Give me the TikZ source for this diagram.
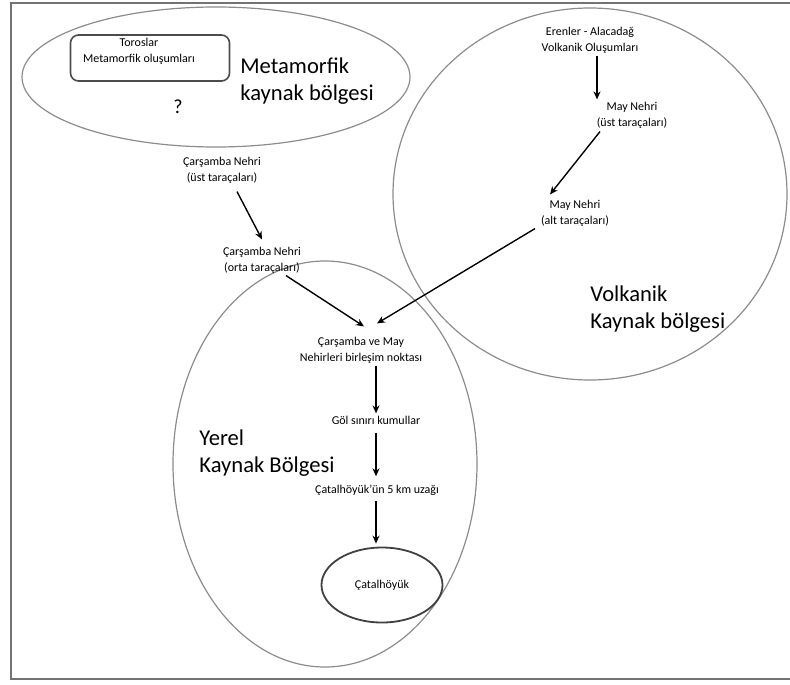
\documentclass[tikz,border=0pt]{standalone}
\usepackage{fontspec}
\setmainfont{Carlito}
\usetikzlibrary{arrows.meta,positioning,calc,shapes.geometric}
\pgfkeys{/tikz/>=Stealth}

\tikzset{
  region/.style={draw=black!45, line width=0.6pt},
  lbl/.style={font=\fontsize{6}{8}\selectfont, align=center, inner sep=1pt},
  big/.style={font=\fontsize{11.3}{13.5}\selectfont, align=left, anchor=north west, inner sep=0pt},
  flow/.style={->, line width=0.7pt, >={Stealth[length=4pt,width=3.5pt]}},
}

\begin{document}
\begin{tikzpicture}[x=0.5pt,y=-0.5pt]
  \useasboundingbox (0,0) rectangle (790,684);
  % frame
  \draw[black!55, line width=1.2pt] (795,3) -- (11,3) -- (11,679) -- (795,679);

  % the three source regions
  \draw[region] (216,77) ellipse (194 and 70);
  \draw[region] (590,194) ellipse (197 and 186);
  \draw[region] (325,464) ellipse (152 and 203);

  % region names
  \node[big] (metlbl) at (240,57)  {Metamorfik\\kaynak bölgesi};
  \node[big] (vollbl) at (590,285) {Volkanik\\Kaynak bölgesi};
  \node[big] (yerlbl) at (199,429) {Yerel\\Kaynak Bölgesi};

  % metamorphic region
  \node[draw=black!70, line width=0.8pt, rounded corners=4pt,
        minimum width=79.5pt, minimum height=23pt] (toros) at (150,58) {};
  \node[lbl] (toroslbl) at (139,51) {Toroslar\\Metamorfik oluşumları};
  \node[font=\fontsize{10}{12}\selectfont] (qm) at (178,107) {?};

  % Carsamba branch
  \node[lbl] (cust)  at (222,170) {Çarşamba Nehri\\(üst taraçaları)};
  \node[lbl] (corta) at (262,260) {Çarşamba Nehri\\(orta taraçaları)};

  % May branch
  \node[lbl] (erenler) at (590,40)  {Erenler - Alacadağ\\Volkanik Oluşumları};
  \node[lbl] (mayust)  at (632,115) {May Nehri\\(üst taraçaları)};
  \node[lbl] (mayalt)  at (575,213) {May Nehri\\(alt taraçaları)};

  % local region
  \node[lbl] (birlesim) at (361,350) {Çarşamba ve May\\Nehirleri birleşim noktası};
  \node[lbl] (gol)  at (376,420) {Göl sınırı kumullar};
  \node[lbl] (uzak) at (377,490) {Çatalhöyük'ün 5 km uzağı};
  \node[lbl, ellipse, draw=black!75, line width=0.9pt,
        minimum width=60.5pt, minimum height=37.5pt] (catal) at (382,585) {Çatalhöyük};

  % arrows
  \draw[flow] ($(cust.south)+(15,6)$) -- ($(corta.north)+(0,-5)$);
  \draw[flow] ($(corta.south)+(24,0)$) -- ($(birlesim.north)+(3,-8)$);
  \draw[flow] ($(erenler.south)+(7,0)$) -- ($(mayust.north)+(-35,0)$);
  \draw[flow] ($(mayust.south)+(-32,1)$) -- ($(mayalt.north)+(-25,-3)$);
  \draw[flow] ($(mayalt.south)+(-40,0)$) -- ($(birlesim.north)+(16,-11)$);
  \draw[flow] (gol |- birlesim.south) -- (gol.north);
  \draw[flow] ($(gol.south)+(0,6)$) -- ($(gol.south |- uzak.north)+(0,-6)$);
  \draw[flow] ($(gol.south |- uzak.south)+(0,3)$) -- ($(gol.south |- catal.north)+(0,-3)$);
\end{tikzpicture}
\end{document}
